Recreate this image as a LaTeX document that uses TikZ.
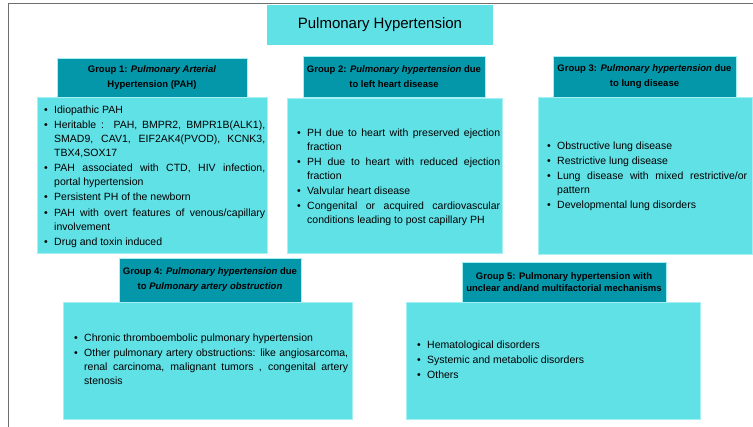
\documentclass[tikz,border=0pt]{standalone}
\usepackage{fontspec}
\setmainfont{Liberation Sans}
\definecolor{bodyc}{RGB}{96,225,230}
\definecolor{headc}{RGB}{4,151,170}
\definecolor{edgec}{RGB}{165,240,244}
\definecolor{framec}{RGB}{110,110,110}
\newcommand{\bul}[1]{\par\hangindent=10pt\hangafter=1\noindent\makebox[10pt][l]{\textbullet}#1\par}
\newcommand{\setbody}{\setlength{\parskip}{1.2pt}\setlength{\parindent}{0pt}\hyphenpenalty=10000\exhyphenpenalty=10000}
\tikzset{
  bodybox/.style={draw=edgec, line width=0.7pt, fill=bodyc, inner sep=0pt},
  headbox/.style={draw=edgec, line width=0.5pt, fill=headc, inner sep=0pt, align=center,
    font=\fontsize{9.5}{15}\selectfont\bfseries},
  btext/.style={anchor=north west, inner sep=0pt, align=justify,
    font=\fontsize{10.5}{14}\selectfont},
  titlebox/.style={fill=bodyc, inner sep=0pt, font=\fontsize{15}{18}\selectfont}
}
\begin{document}
\begin{tikzpicture}[x=1pt,y=-1pt]
\useasboundingbox (0,0) rectangle (753,427);
% frame
\coordinate (fa) at (8.5,427);
\coordinate (fb) at (8.5,3.5);
\coordinate (fc) at (753,3.5);
\draw[framec, line width=1.3pt] (fa) -- (fb) -- (fc);
% title
\node[titlebox, minimum width=226pt, minimum height=40pt] (title) at (380,25) {Pulmonary Hypertension};
% bodies
\node[bodybox, minimum width=230pt, minimum height=156pt] (g1b) at (152,175) {};
\node[bodybox, minimum width=215pt, minimum height=155pt] (g2b) at (394.5,175.5) {};
\node[bodybox, minimum width=214pt, minimum height=157pt] (g3b) at (645,175.5) {};
\node[bodybox, minimum width=289pt, minimum height=117pt] (g4b) at (207.5,360.5) {};
\node[bodybox, minimum width=294pt, minimum height=117pt] (g5b) at (553,360.5) {};
% headers
\node[headbox, minimum width=190pt, minimum height=39pt] (g1h) at (152,77.5)
  {Group 1: \textit{Pulmonary Arterial}\\Hypertension (PAH)};
\node[headbox, minimum width=182pt, minimum height=41pt] (g2h) at (394,76.5)
  {Group 2: \textit{Pulmonary hypertension} due\\to left heart disease};
\node[headbox, minimum width=183pt, minimum height=41pt] (g3h) at (644.5,76.5)
  {Group 3: \textit{Pulmonary hypertension} due\\to lung disease};
\node[headbox, minimum width=182pt, minimum height=44pt] (g4h) at (210,280)
  {Group 4: \textit{Pulmonary hypertension} due\\to \textit{Pulmonary artery obstruction}};
\node[headbox, minimum width=204pt, minimum height=40pt, font=\fontsize{9.5}{12.5}\selectfont\bfseries] (g5h) at (564,282)
  {Group 5: Pulmonary hypertension with\\unclear and/and multifactorial mechanisms};
% body texts
\node[btext, text width=221pt] (g1t) at (44,98) {\setbody
  \bul{Idiopathic PAH}
  \bul{Heritable :\ \ PAH, BMPR2, BMPR1B(ALK1),\linebreak SMAD9, CAV1, EIF2AK4(PVOD), KCNK3,\linebreak TBX4,SOX17}
  \bul{PAH associated with CTD, HIV infection, portal hypertension}
  \bul{Persistent PH of the newborn}
  \bul{PAH with overt features of venous/capillary involvement}
  \bul{Drug and toxin induced}};
\node[btext, text width=203pt] (g2t) at (297,121) {\setbody
  \bul{PH due to heart with preserved ejection fraction}
  \bul{PH due to heart with reduced ejection fraction}
  \bul{Valvular heart disease}
  \bul{Congenital or acquired cardiovascular conditions leading to post capillary PH}};
\node[btext, text width=200pt] (g3t) at (547,134) {\setbody
  \bul{Obstructive lung disease}
  \bul{Restrictive lung disease}
  \bul{Lung disease with mixed restrictive/or pattern}
  \bul{Developmental lung disorders}};
\node[btext, text width=274pt] (g4t) at (74,326) {\setbody
  \bul{Chronic thromboembolic pulmonary hypertension}
  \bul{Other pulmonary artery obstructions: like angiosarcoma, renal carcinoma, malignant tumors , congenital artery stenosis}};
\node[btext, text width=270pt] (g5t) at (417,333) {\setbody
  \bul{Hematological disorders}
  \bul{Systemic and metabolic disorders}
  \bul{Others}};
\end{tikzpicture}
\end{document}
